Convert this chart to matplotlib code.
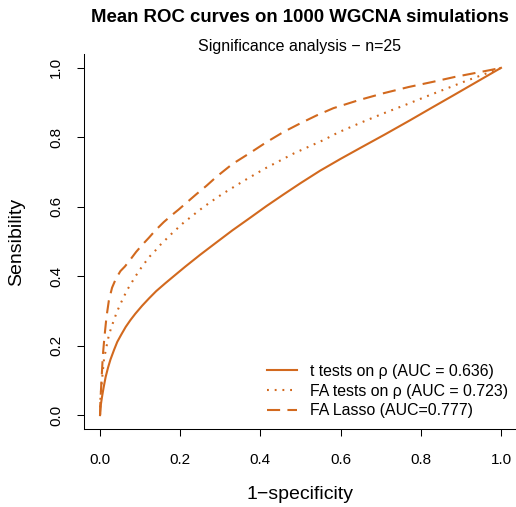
import matplotlib
matplotlib.use('Agg')
from matplotlib import pyplot as plt
from matplotlib.lines import Line2D

plt.rcParams['font.family'] = ['Liberation Sans', 'DejaVu Sans']

# mean ROC curves
fpr_t = [0, 0.002, 0.005, 0.009, 0.014, 0.02, 0.026, 0.035, 0.043, 0.053,
         0.064, 0.076, 0.088, 0.105, 0.122, 0.14, 0.163, 0.19, 0.213, 0.25,
         0.291, 0.33, 0.374, 0.415, 0.457, 0.5, 0.549, 0.6, 0.65, 0.71,
         0.773, 0.83, 0.88, 0.94, 1.0]
tpr_t = [0, 0.03, 0.053, 0.08, 0.110, 0.137, 0.160, 0.188, 0.211, 0.232,
         0.254, 0.274, 0.292, 0.315, 0.336, 0.357, 0.380, 0.406, 0.428, 0.462,
         0.498, 0.532, 0.568, 0.602, 0.635, 0.668, 0.704, 0.738, 0.77, 0.808,
         0.849, 0.887, 0.92, 0.96, 1.0]

fpr_fa = [0, 0.001, 0.004, 0.006, 0.008, 0.010, 0.014, 0.018, 0.022, 0.028,
          0.035, 0.042, 0.050, 0.059, 0.068, 0.078, 0.088, 0.100, 0.112, 0.124,
          0.138, 0.151, 0.166, 0.180, 0.195, 0.210, 0.226, 0.242, 0.259, 0.275,
          0.291, 0.308, 0.359, 0.411, 0.484, 0.559, 0.594, 0.65, 0.707, 0.765,
          0.821, 0.87, 0.914, 0.973, 1.0]
tpr_fa = [0, 0.05, 0.09, 0.115, 0.139, 0.162, 0.185, 0.208, 0.230, 0.252,
          0.275, 0.297, 0.318, 0.340, 0.361, 0.380, 0.399, 0.420, 0.439, 0.457,
          0.474, 0.491, 0.508, 0.524, 0.540, 0.556, 0.570, 0.585, 0.600, 0.613,
          0.626, 0.639, 0.675, 0.710, 0.754, 0.793, 0.814, 0.842, 0.869, 0.895,
          0.921, 0.943, 0.963, 0.988, 1.0]

fpr_lasso = [0, 0.001, 0.003, 0.005, 0.007, 0.011, 0.016, 0.022, 0.030, 0.040,
             0.051, 0.062, 0.075, 0.090, 0.105, 0.122, 0.138, 0.159, 0.178, 0.196,
             0.215, 0.240, 0.265, 0.291, 0.33, 0.374, 0.415, 0.457, 0.499, 0.54,
             0.582, 0.645, 0.707, 0.77, 0.831, 0.885, 0.939, 0.97, 1.0]
tpr_lasso = [0, 0.043, 0.086, 0.129, 0.172, 0.225, 0.282, 0.330, 0.367, 0.394,
             0.415, 0.428, 0.447, 0.470, 0.490, 0.511, 0.532, 0.556, 0.575, 0.592,
             0.611, 0.636, 0.660, 0.687, 0.723, 0.755, 0.786, 0.815, 0.840, 0.863,
             0.884, 0.907, 0.927, 0.945, 0.960, 0.974, 0.986, 0.993, 1.0]

labels = ['t tests on \u03c1 (AUC = 0.636)',
          'FA tests on \u03c1 (AUC = 0.723)',
          'FA Lasso (AUC=0.777)']
ticks = [0.0, 0.2, 0.4, 0.6, 0.8, 1.0]

col = '#d2691e'
W, H = 516, 507
dotted = (0.9, 2.8)
dashed = (6.3, 3.5)

fig = plt.figure(figsize=(W / 100, H / 100), dpi=100)
ax = fig.add_axes([84 / W, 1 - 429 / H, 433 / W, 375 / H])

ax.plot(fpr_t, tpr_t, color=col, lw=1.5)
ax.plot(fpr_fa, tpr_fa, color=col, lw=1.5, dashes=dotted)
ax.plot(fpr_lasso, tpr_lasso, color=col, lw=1.5, dashes=dashed)

ax.set_xlim(-0.04, 1.04)
ax.set_ylim(-0.04, 1.04)
ax.set_xticks(ticks)
ax.set_yticks(ticks)
ax.set_xticklabels(['%.1f' % t for t in ticks])
ax.set_yticklabels(['%.1f' % t for t in ticks], rotation=90, va='center')
ax.tick_params(length=5, width=0.75, labelsize=11)
ax.tick_params(axis='x', pad=12)
ax.tick_params(axis='y', pad=10)

for s in ['top', 'right']:
    ax.spines[s].set_visible(False)
for s in ['left', 'bottom']:
    ax.spines[s].set_linewidth(0.75)

ax.set_xlabel('1\u2212specificity', fontsize=14, labelpad=14)
ax.set_ylabel('Sensibility', fontsize=14, labelpad=17.5)

fig.text(300 / W, 1 - 17 / H, 'Mean ROC curves on 1000 WGCNA simulations',
         ha='center', va='center', fontsize=13.4, fontweight='bold')
fig.text(300 / W, 1 - 46 / H, 'Significance analysis \u2212 n=25',
         ha='center', va='center', fontsize=11.5)

handles = [Line2D([], [], color=col, lw=1.5),
           Line2D([], [], color=col, lw=1.5, dashes=dotted),
           Line2D([], [], color=col, lw=1.5, dashes=dashed)]
ax.legend(handles, labels, loc='upper left', bbox_to_anchor=(267 / W, 1 - 364 / H),
          bbox_transform=fig.transFigure, frameon=False, fontsize=11.4,
          handlelength=1.9, handletextpad=0.8, labelspacing=0.3,
          borderpad=0, borderaxespad=0)

fig.savefig('out.png', dpi=100)
